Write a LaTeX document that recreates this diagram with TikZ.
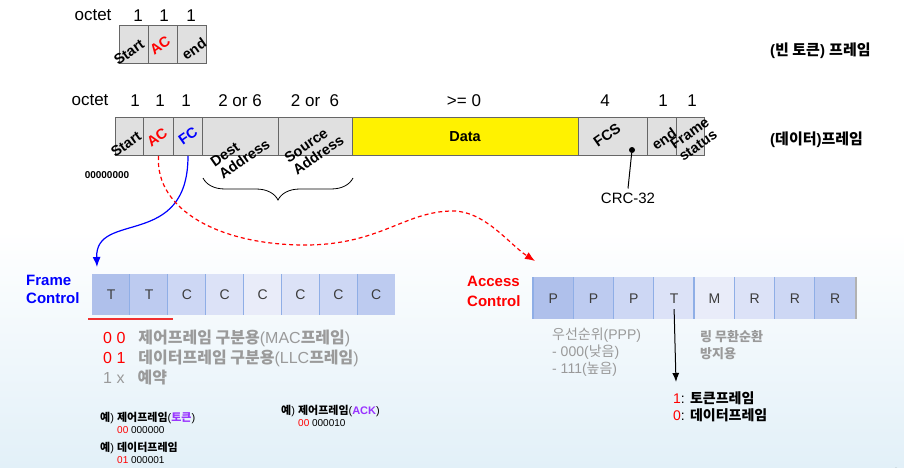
\documentclass[tikz,border=0pt]{standalone}
\usepackage{fontspec}
\setmainfont{Liberation Sans}
\newfontfamily\kor{Noto Sans CJK KR}
\newcommand\korb[1]{{\kor\bfseries #1}}
\newcommand\korr[1]{{\kor #1}}
\usetikzlibrary{arrows.meta,decorations.pathreplacing,calc}
\definecolor{boxgray}{HTML}{E0E0E0}
\definecolor{boxline}{HTML}{666666}
\definecolor{gtext}{HTML}{9A9A9A}
\definecolor{purp}{HTML}{9933FF}
\definecolor{sepblue}{HTML}{8FAEE6}
\definecolor{bittext}{HTML}{3C3C3C}
\definecolor{bgblue}{HTML}{E2F0F8}
\definecolor{cA}{HTML}{AFC0EB}
\definecolor{cB}{HTML}{BDCBF0}
\definecolor{cC}{HTML}{CDD7F4}
\definecolor{cD}{HTML}{DCE2F7}
\definecolor{cE}{HTML}{E9ECF9}
\definecolor{ulred}{HTML}{F03030}
\begin{document}
\begin{tikzpicture}[x=1pt,y=-1pt,
  fbox/.style={draw=boxline, line width=1pt, fill=boxgray, inner sep=0pt, anchor=north west, minimum height=38pt},
  rot/.style={font=\fontsize{14.5}{15}\selectfont\bfseries, rotate=35, inner sep=0pt, align=left},
  num/.style={font=\fontsize{17}{19}\selectfont, inner sep=0pt},
  bit/.style={inner sep=0pt, anchor=north west, minimum height=41pt, font=\fontsize{14}{16}\selectfont, text=bittext},
  sep/.style={draw=sepblue, line width=1.2pt},
  side/.style={font=\fontsize{15}{18}\selectfont\bfseries, inner sep=0pt, anchor=west, align=left},
  gline/.style={font=\fontsize{16}{18}\selectfont, text=gtext, inner sep=0pt, anchor=west},
  ex/.style={font=\fontsize{11}{13}\selectfont, inner sep=0pt, anchor=west},
  exb/.style={font=\fontsize{10}{12}\selectfont, inner sep=0pt, anchor=west},
  rtext/.style={font=\fontsize{14}{16}\selectfont, inner sep=0pt, anchor=west}
]
% background
\useasboundingbox (0,0) rectangle (904,468);
\fill[white] (0,0) rectangle (904,230);
\shade[top color=white, bottom color=bgblue] (0,230) rectangle (904,468);

% ---- top (empty token) frame ----
\node[num] (octA) at (93,15) {octet};
\node[num] (nA1) at (138,16) {1};
\node[num] (nA2) at (164,16) {1};
\node[num] (nA3) at (191,16) {1};
\node[fbox, minimum width=29pt] (tS) at (119,25) {};
\node[fbox, minimum width=29pt] (tAC) at (148,25) {};
\node[fbox, minimum width=29pt] (tE) at (177,25) {};
\node[rot] (tSl) at (129,52) {Start};
\node[rot, text=red] (tACl) at (160,45) {AC};
\node[rot] (tEl) at (194,49) {end};
\node[side] (tokframe) at (770,51) {(\korb{빈 토큰}) \korb{프레임}};

% ---- data frame ----
\node[num] (octB) at (90,100) {octet};
\node[num] (nB1) at (135,101) {1};
\node[num] (nB2) at (160,101) {1};
\node[num] (nB3) at (186,101) {1};
\node[num] (nB4) at (240,101) {2 or 6};
\node[num] (nB5) at (315,101) {2 or~~6};
\node[num] (nB6) at (464,101) {>= 0};
\node[num] (nB7) at (605,101) {4};
\node[num] (nB8) at (663,101) {1};
\node[num] (nB9) at (692,101) {1};

\node[fbox, minimum width=28pt] (bS) at (115,117) {};
\node[fbox, minimum width=30pt] (bAC) at (143,117) {};
\node[fbox, minimum width=29pt] (bFC) at (173,117) {};
\node[fbox, minimum width=76pt] (bD) at (202,117) {};
\node[fbox, minimum width=74pt] (bSA) at (278,117) {};
\node[fbox, minimum width=226pt, fill=yellow] (bData) at (352,117) {};
\node[fbox, minimum width=69pt] (bFCS) at (578,117) {};
\node[fbox, minimum width=29pt] (bE) at (647,117) {};
\node[fbox, minimum width=28pt] (bFS) at (676,117) {};

\node[rot] (lS) at (126,144) {Start};
\node[rot, text=red] (lAC) at (157,137) {AC};
\node[rot, text=blue] (lFC) at (188,136) {FC};
\node[rot] (lD) at (240,153) {Dest\\Address};
\node[rot] (lSA) at (314,149) {Source\\Address};
\node[font=\fontsize{14.5}{15}\selectfont\bfseries, inner sep=0pt] (lData) at (465,137) {Data};
\node[rot] (lFCS) at (607,135) {FCS};
\node[rot] (lE) at (664,139) {end};
\node[rot] (lFS) at (694,139) {Frame\\status};
\node[side] (dataframe) at (770,140) {(\korb{데이터})\korb{프레임}};

\node[font=\fontsize{10}{12}\selectfont\bfseries, inner sep=0pt] (zeros) at (107,175) {00000000};

\coordinate (brL) at (203,178);
\coordinate (brR) at (353,178);
\draw[line width=0.8pt, decorate, decoration={brace, amplitude=22pt, mirror}] (brL) -- (brR);

\node[circle, fill=black, inner sep=0pt, minimum size=6pt] (crcdot) at (632,150) {};
\node[font=\fontsize{15}{17}\selectfont, inner sep=0pt] (crc) at (628,198) {CRC-32};
\draw[line width=1pt] (crcdot) -- ([yshift=4pt]crc.north);

% ---- Frame control bits ----
\node[side, text=blue] (fclab) at (26,289) {Frame\\Control};
\foreach \i/\c/\t in {0/cA/T,1/cB/T,2/cC/C,3/cD/C,4/cE/C,5/cD/C,6/cC/C,7/cB/C}{
  \node[bit, fill=\c, minimum width=37.9pt] (fc\i) at (92+\i*37.875,274) {\t};
}
\foreach \i in {1,...,7}{ \draw[sep] (fc\i.north west) -- (fc\i.south west); }
\draw[draw=ulred, line width=1.2pt] (88,319) -- (173,319);

\node[gline] (g1) at (103,338) {\textcolor{red}{0 0}\hspace{13pt}\korb{제어프레임 구분용}(MAC\korb{프레임})};
\node[gline] (g2) at (103,358) {\textcolor{red}{0 1}\hspace{13pt}\korb{데이터프레임 구분용}(LLC\korb{프레임})};
\node[gline] (g3) at (103,378) {1 x\hspace{13pt}\korb{예약}};

\node[ex] (e1) at (100,418) {\korb{예}) \korb{제어프레임}(\textcolor{purp}{\korb{토큰}})};
\node[exb] (e1b) at (117,430) {\textcolor{red}{00} 000000};
\node[ex] (e2) at (100,448) {\korb{예}) \korb{데이터프레임}};
\node[exb] (e2b) at (117,460) {\textcolor{red}{01} 000001};
\node[ex] (e3) at (281,411) {\korb{예}) \korb{제어프레임}(\textcolor{purp}{\bfseries ACK})};
\node[exb] (e3b) at (298,423) {\textcolor{red}{00} 000010};

% ---- Access control bits ----
\node[side, font=\fontsize{15}{20}\selectfont\bfseries, text=red] (aclab) at (467,291) {Access\\Control};
\foreach \i/\c/\t in {0/cA/P,1/cB/P,2/cC/P,3/cD/T,4/cE/M,5/cD/R,6/cC/R,7/cB/R}{
  \node[bit, fill=\c, minimum width=40.3pt, minimum height=42pt] (ac\i) at (533+\i*40.25,277) {\t};
}
\foreach \i in {1,...,7}{ \draw[sep] (ac\i.north west) -- (ac\i.south west); }
\draw[sep] (ac0.north west) -- (ac0.south west);
\draw[draw=gray!60, line width=2pt] ([xshift=1pt]ac7.north east) -- ([xshift=1pt]ac7.south east);

\node[rtext, text=gtext] (p1) at (552,335) {\korr{우선순위}(PPP)};
\node[rtext, text=gtext] (p2) at (552,352) {- 000(\korr{낮음})};
\node[rtext, text=gtext] (p3) at (552,369) {- 111(\korr{높음})};
\node[rtext, font=\fontsize{13}{15}\selectfont, text=gtext] (r1) at (700,337) {\korb{링 무환순환}};
\node[rtext, font=\fontsize{13}{15}\selectfont, text=gtext] (r2) at (700,354) {\korb{방지용}};
\node[rtext] (b1) at (673,398) {\textcolor{red}{1}: \korb{토큰프레임}};
\node[rtext] (b2) at (673,415) {\textcolor{red}{0}: \korb{데이터프레임}};

\coordinate (tEnd) at (676,382);
\draw[line width=1pt, -{Latex[length=9pt,width=7pt]}] ([yshift=-11pt]ac3.center) -- (tEnd);

% ---- connectors ----
\coordinate (fcEnd) at (97,267);
\coordinate (acEnd) at (535,261);
\draw[blue, line width=1.2pt, -{Latex[length=10pt,width=8pt]}] (bFC.south) .. controls (188,250) and (95,210) .. (fcEnd);
\draw[red, line width=1.2pt, dash pattern=on 4pt off 3pt, -{Latex[length=10pt,width=8pt]}]
  (bAC.south) .. controls (155,210) and (220,245) .. (305,245)
  .. controls (380,245) and (405,211) .. (453,211)
  .. controls (485,211) and (510,245) .. (acEnd);

\node[font=\fontsize{16}{18}\selectfont, text=black!80, inner sep=0pt] (pg) at (896,474) {2};
\end{tikzpicture}
\end{document}
